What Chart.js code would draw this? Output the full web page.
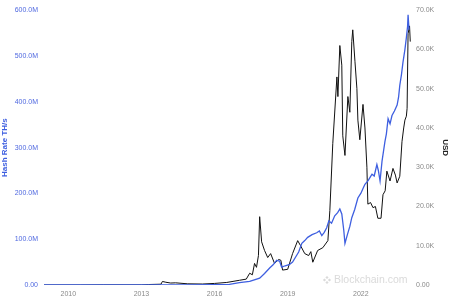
<!DOCTYPE html>
<html>
<head>
<meta charset="utf-8">
<script src="https://cdn.jsdelivr.net/npm/chart.js@4/dist/chart.umd.min.js"></script>
<style>
  html, body { margin: 0; padding: 0; background: #fff; }
  #wrap { width: 450px; height: 301px; }
</style>
</head>
<body>
<div id="wrap"><canvas id="grafico"></canvas></div>
<script>
// hash rate, millions of TH/s
const hashYears = [2009.0, 2013.0, 2014.0, 2015.0, 2016.0, 2016.61, 2017.02, 2017.44, 2017.85, 2018.05,
  2018.26, 2018.4, 2018.55, 2018.67, 2018.75, 2018.9, 2019.08, 2019.2, 2019.37, 2019.45, 2019.58,
  2019.7, 2019.82, 2020.0, 2020.19, 2020.3, 2020.4, 2020.5, 2020.6, 2020.69, 2020.8, 2020.93,
  2021.05, 2021.14, 2021.22, 2021.3, 2021.35, 2021.45, 2021.55, 2021.63, 2021.75, 2021.88, 2022.0,
  2022.1, 2022.17, 2022.3, 2022.38, 2022.46, 2022.55, 2022.66, 2022.72, 2022.79, 2022.87, 2022.99,
  2023.05, 2023.12, 2023.2, 2023.28, 2023.38, 2023.49, 2023.55, 2023.6, 2023.67, 2023.73, 2023.81,
  2023.87, 2023.92, 2023.94, 2023.98];
const hashValues = [0, 0.01, 0.05, 0.35, 0.8, 1.5, 5, 8, 15, 25,
  37, 44, 54, 52, 39, 42, 45, 50, 65, 72, 91,
  97, 104, 110, 114, 118, 108, 115, 125, 140, 135, 151,
  158, 166, 155, 120, 91, 110, 128, 147, 165, 190, 200,
  212, 220, 228, 235, 242, 238, 263, 250, 227, 270, 313,
  330, 363, 352, 370, 380, 393, 410, 436, 460, 486, 514,
  540, 565, 590, 557];

// price, thousands of USD
const priceYears = [2009.0, 2010.5, 2011.45, 2013.0, 2013.3, 2013.8, 2013.86, 2014.0, 2014.2, 2014.4,
  2014.9, 2015.5, 2016.0, 2016.5, 2017.02, 2017.3, 2017.44, 2017.55, 2017.64, 2017.72, 2017.8,
  2017.85, 2017.93, 2018.05, 2018.18, 2018.3, 2018.46, 2018.63, 2018.72, 2018.79, 2019.0, 2019.2,
  2019.41, 2019.53, 2019.7, 2019.86, 2019.95, 2020.03, 2020.23, 2020.44, 2020.65, 2020.73, 2020.85,
  2021.02, 2021.06, 2021.14, 2021.22, 2021.26, 2021.35, 2021.47, 2021.55, 2021.63, 2021.67, 2021.76,
  2021.84, 2021.88, 2021.96, 2022.09, 2022.17, 2022.25, 2022.29, 2022.4, 2022.5, 2022.6, 2022.7,
  2022.83, 2022.91, 2023.0, 2023.07, 2023.2, 2023.32, 2023.42, 2023.49, 2023.6, 2023.69, 2023.76,
  2023.81, 2023.87, 2023.9, 2023.94, 2024.0, 2024.03];
const priceValues = [0, 0, 0.03, 0.02, 0.12, 0.2, 0.9, 0.7, 0.5, 0.55,
  0.3, 0.25, 0.4, 0.65, 1.2, 1.5, 3, 2.6, 5.5, 4.5, 7.5,
  17.4, 11, 8.8, 7, 8, 5.5, 6.5, 6.3, 3.8, 4, 8,
  11.3, 10, 8, 7.5, 8.5, 5.8, 8.8, 9.5, 11.3, 19, 36,
  53, 48, 61, 56, 38, 33, 48, 44, 62, 65, 57,
  50, 42, 37, 46, 40, 30, 20.6, 21, 19.7, 20, 17,
  17, 23, 24, 29, 26.5, 29.7, 28, 26, 27.7, 36.5, 40,
  42, 43, 45, 64, 66, 62];

const xTicks = [2010, 2013, 2016, 2019, 2022];
const hashTickLabels = ['0.00', '100.0M', '200.0M', '300.0M', '400.0M', '500.0M', '600.0M'];
const priceTickLabels = ['0.00', '10.0K', '20.0K', '30.0K', '40.0K', '50.0K', '60.0K', '70.0K'];

const blue = '#3e5fe0';
const grey = '#8a8a8a';

const toPoints = (xs, ys) => xs.map((x, i) => ({ x: x, y: ys[i] }));

const watermark = {
  id: 'watermark',
  beforeDatasetsDraw(chart) {
    const c = chart.ctx;
    c.save();
    c.fillStyle = '#dadada';
    const cx = 327, cy = 280, s = 2.5;
    [[0, -s], [s, 0], [0, s], [-s, 0]].forEach(([dx, dy]) => {
      c.beginPath();
      c.moveTo(cx + dx, cy + dy - 1.6);
      c.lineTo(cx + dx + 1.6, cy + dy);
      c.lineTo(cx + dx, cy + dy + 1.6);
      c.lineTo(cx + dx - 1.6, cy + dy);
      c.closePath();
      c.fill();
    });
    c.font = '10.5px "Liberation Sans", Arial, sans-serif';
    c.textBaseline = 'middle';
    c.fillText('Blockchain.com', 334, cy);
    c.restore();
  }
};

Chart.defaults.font.family = '"Liberation Sans", Arial, sans-serif';
Chart.defaults.font.size = 7;

new Chart(document.getElementById('grafico'), {
  type: 'line',
  data: {
    datasets: [
      {
        label: 'Hash Rate',
        data: toPoints(hashYears, hashValues),
        yAxisID: 'yHash',
        borderColor: blue,
        borderWidth: 1.3,
        pointRadius: 0,
        tension: 0
      },
      {
        label: 'USD',
        data: toPoints(priceYears, priceValues),
        yAxisID: 'yUsd',
        borderColor: '#111',
        borderWidth: 1,
        pointRadius: 0,
        tension: 0
      }
    ]
  },
  options: {
    responsive: true,
    maintainAspectRatio: false,
    animation: false,
    layout: { padding: { top: 1, right: 0, bottom: 0, left: 0 } },
    plugins: { legend: { display: false }, tooltip: { enabled: false } },
    scales: {
      x: {
        type: 'linear',
        min: 2009,
        max: 2024.06,
        grid: { display: false, drawTicks: false, tickLength: 0 },
        border: { display: false },
        afterBuildTicks: (s) => { s.ticks = xTicks.map(v => ({ value: v })); },
        afterFit: (s) => { s.height = 16; },
        ticks: { color: grey, padding: 5, maxRotation: 0, callback: (v) => String(v) }
      },
      yHash: {
        position: 'left',
        min: 0,
        max: 600,
        grid: { display: false, drawTicks: false, tickLength: 0 },
        border: { display: false },
        afterBuildTicks: (s) => { s.ticks = hashTickLabels.map((t, i) => ({ value: i * 100 })); },
        afterFit: (s) => { s.width = 44; },
        ticks: { color: '#5069e0', padding: 6, callback: (v, i) => hashTickLabels[i] },
        title: { display: true, text: 'Hash Rate TH/s', color: blue, font: { size: 8, weight: 'bold' }, padding: { top: 0, bottom: 0 } }
      },
      yUsd: {
        position: 'right',
        min: 0,
        max: 70,
        grid: { display: false, drawTicks: false, tickLength: 0 },
        border: { display: false },
        afterBuildTicks: (s) => { s.ticks = priceTickLabels.map((t, i) => ({ value: i * 10 })); },
        afterFit: (s) => { s.width = 39; },
        ticks: { color: grey, padding: 5, callback: (v, i) => priceTickLabels[i] },
        title: { display: true, text: 'USD', color: '#222', font: { size: 8, weight: 'bold' }, padding: 0 }
      }
    }
  },
  plugins: [watermark]
});
</script>
</body>
</html>
